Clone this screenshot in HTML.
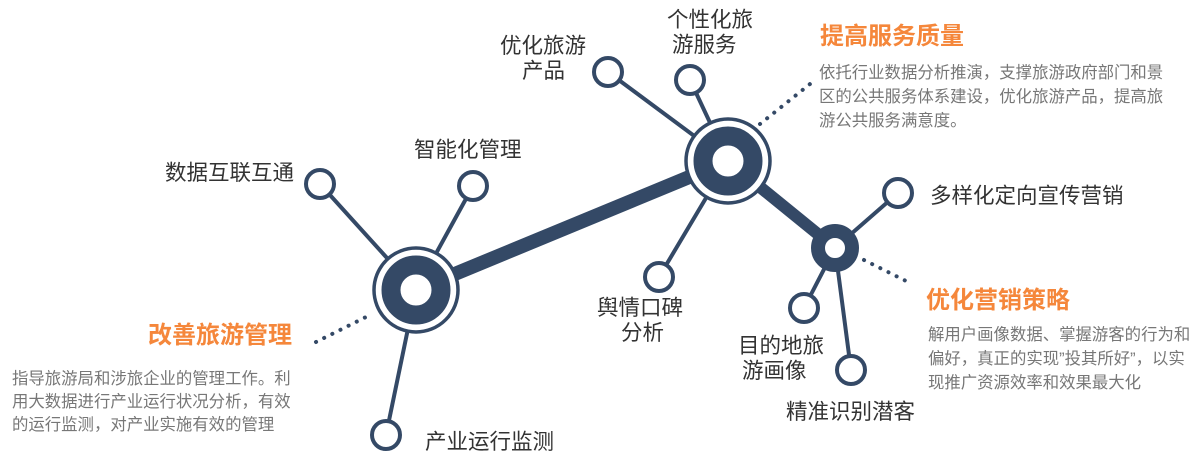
<!DOCTYPE html>
<html><head><meta charset="utf-8"><style>
body{margin:0;background:#fff;}
svg{display:block;font-family:"Liberation Sans","Noto Sans CJK SC",sans-serif;}
.l{font-size:21.5px;fill:#333;}
.t{font-size:24px;font-weight:bold;fill:#f5873b;}
.d{font-size:16.4px;fill:#777;}
</style></head><body>
<svg width="1200" height="468" viewBox="0 0 1200 468">
<g stroke="#344966" fill="none" stroke-linecap="round">
<g stroke-width="4">
<line x1="416" y1="290" x2="320" y2="184"/>
<line x1="416" y1="290" x2="473" y2="186"/>
<line x1="416" y1="290" x2="386" y2="435"/>
<line x1="728" y1="161" x2="608" y2="72"/>
<line x1="728" y1="161" x2="690" y2="80"/>
<line x1="728" y1="161" x2="659" y2="277"/>
<line x1="835" y1="248" x2="898" y2="193"/>
<line x1="835" y1="248" x2="804" y2="308"/>
<line x1="835" y1="248" x2="851" y2="370"/>
</g>
<line x1="416" y1="290" x2="728" y2="161" stroke-width="14" stroke-linecap="butt"/>
<line x1="728" y1="161" x2="835" y2="248" stroke-width="12" stroke-linecap="butt"/>
<g stroke-width="4" stroke-dasharray="0.1 9">
<line x1="760" y1="124" x2="815" y2="80"/>
<line x1="864" y1="260" x2="906" y2="281"/>
<line x1="316" y1="342" x2="366" y2="317"/>
</g>
</g>
<g fill="#fff" stroke="#344966" stroke-width="4">
<circle cx="320" cy="184" r="14"/>
<circle cx="473" cy="186" r="14"/>
<circle cx="386" cy="435" r="14"/>
<circle cx="608" cy="72" r="14"/>
<circle cx="690" cy="80" r="14"/>
<circle cx="659" cy="277" r="14"/>
<circle cx="898" cy="193" r="14"/>
<circle cx="804" cy="308" r="14"/>
<circle cx="851" cy="370" r="14"/>
</g>
<g>
<circle cx="416" cy="290" r="42" fill="#fff" stroke="#344966" stroke-width="3.5"/>
<circle cx="416" cy="290" r="25" fill="none" stroke="#344966" stroke-width="19"/>
<circle cx="728" cy="161" r="42" fill="#fff" stroke="#344966" stroke-width="3.5"/>
<circle cx="728" cy="161" r="25" fill="none" stroke="#344966" stroke-width="19"/>
<circle cx="835" cy="248" r="17" fill="#fff" stroke="#344966" stroke-width="14"/>
</g>
<text class="l" x="165" y="180">数据互联互通</text>
<text class="l" x="414" y="157">智能化管理</text>
<text class="l" x="425" y="449">产业运行监测</text>
<text class="l" x="500" y="53">优化旅游</text>
<text class="l" x="522" y="78">产品</text>
<text class="l" x="667" y="27">个性化旅</text>
<text class="l" x="672" y="52">游服务</text>
<text class="l" x="597" y="315">舆情口碑</text>
<text class="l" x="621" y="340">分析</text>
<text class="l" x="738" y="353">目的地旅</text>
<text class="l" x="742" y="378">游画像</text>
<text class="l" x="786" y="419">精准识别潜客</text>
<text class="l" x="930" y="203">多样化定向宣传营销</text>
<text class="t" x="820" y="44">提高服务质量</text>
<text class="t" x="148" y="343">改善旅游管理</text>
<text class="t" x="926" y="308">优化营销策略</text>
<text class="d" x="819" y="78">依托行业数据分析推演，支撑旅游政府部门和景</text>
<text class="d" x="819" y="102">区的公共服务体系建设，优化旅游产品，提高旅</text>
<text class="d" x="819" y="126">游公共服务满意度。</text>
<text class="d" x="12" y="384">指导旅游局和涉旅企业的管理工作。利</text>
<text class="d" x="12" y="407">用大数据进行产业运行状况分析，有效</text>
<text class="d" x="12" y="430">的运行监测，对产业实施有效的管理</text>
<text class="d" x="928" y="340">解用户画像数据、掌握游客的行为和</text>
<text class="d" x="928" y="364">偏好，真正的实现”投其所好”，以实</text>
<text class="d" x="928" y="388">现推广资源效率和效果最大化</text>
</svg>
</body></html>
